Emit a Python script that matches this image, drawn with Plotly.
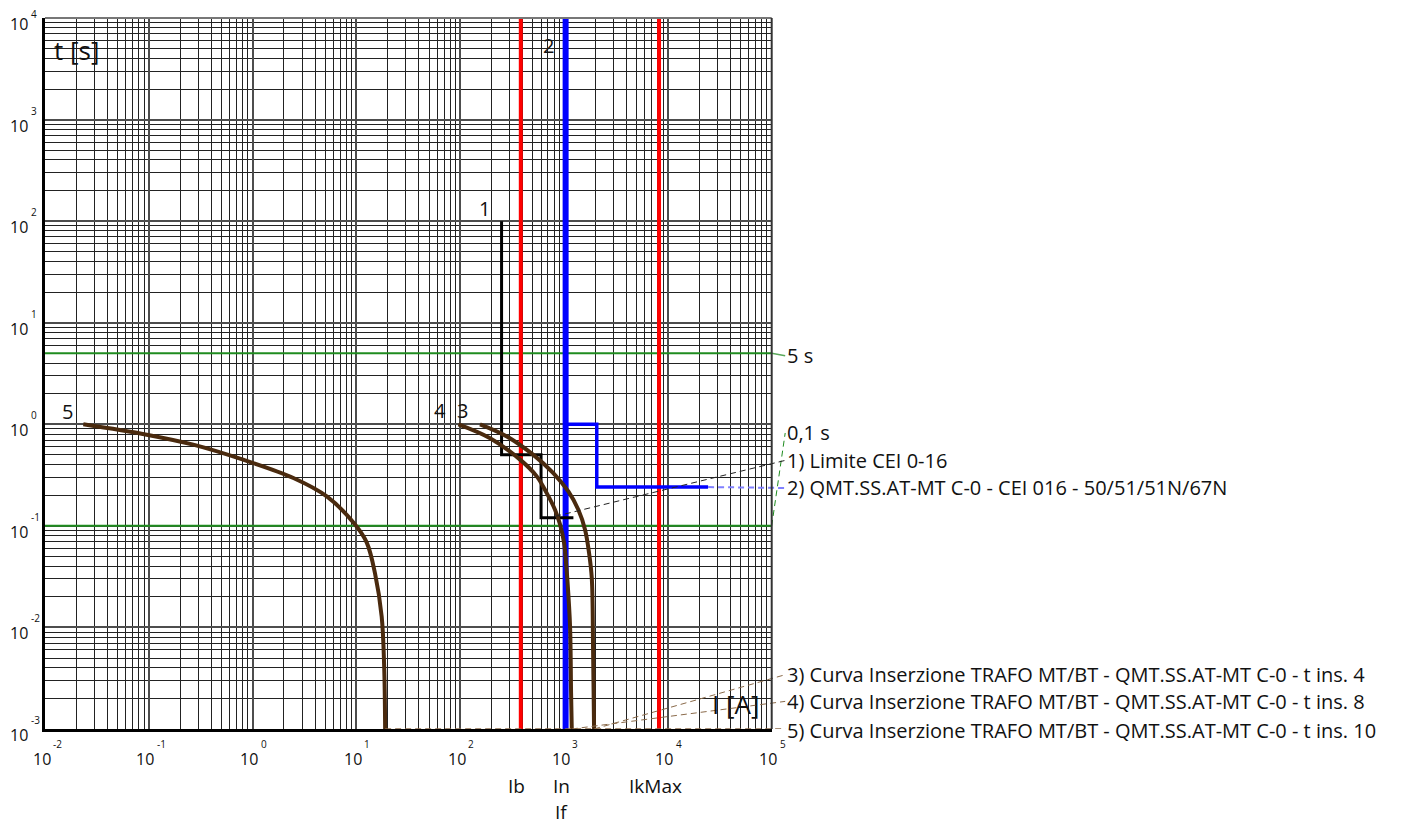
import math
import plotly.graph_objects as go

# ---------------- data ----------------
# 1) Limite CEI 0-16
c1_I = [250, 250, 600, 600, 1230]
c1_t = [100, 0.5, 0.5, 0.12, 0.12]

# 2) QMT.SS.AT-MT C-0 - CEI 016 - 50/51/51N/67N
c2v_I = [1035, 1035]
c2v_t = [1e4, 1e-3]
c2_I = [1035, 2065, 2065, 24400]
c2_t = [1.0, 1.0, 0.241, 0.241]

# 3) Curva Inserzione TRAFO t ins. 4
c3_I = [155, 281, 506, 788, 1099, 1373, 1593, 1741, 1849, 1903, 1945]
c3_t = [1.0, 0.76, 0.50, 0.331, 0.218, 0.144, 0.0917, 0.054, 0.0307, 0.006, 0.001]

# 4) Curva Inserzione TRAFO t ins. 8
c4_I = [96, 194, 377, 546, 681, 818, 915, 1000, 1045, 1076, 1142, 1168, 1186]
c4_t = [1.0, 0.73, 0.449, 0.307, 0.21, 0.144, 0.103, 0.068, 0.043, 0.0295, 0.0102, 0.00228, 0.001]

# 5) Curva Inserzione TRAFO t ins. 10
c5_I = [0.0234, 0.0955, 0.268, 0.81, 2.47, 5.18, 9.7, 12.6, 15.1, 17.5, 18.5, 18.9]
c5_t = [1.0, 0.79, 0.63, 0.448, 0.296, 0.195, 0.103, 0.068, 0.034, 0.0128, 0.0041, 0.001]

# reference currents
Ib = 383
In = 1035
If = 1035
IkMax = 8220

# reference times
t_lines = [5, 0.1]

X_DECADES = [-2, -1, 0, 1, 2, 3, 4, 5]
Y_DECADES = [-3, -2, -1, 0, 1, 2, 3, 4]

right_texts = ["5 s", "0,1 s", "1) Limite CEI 0-16",
               "2) QMT.SS.AT-MT C-0 - CEI 016 - 50/51/51N/67N",
               "3) Curva Inserzione TRAFO MT/BT - QMT.SS.AT-MT C-0 - t ins. 4",
               "4) Curva Inserzione TRAFO MT/BT - QMT.SS.AT-MT C-0 - t ins. 8",
               "5) Curva Inserzione TRAFO MT/BT - QMT.SS.AT-MT C-0 - t ins. 10"]
right_t = [4.74, 0.821, 0.441, 0.236, 0.003424, 0.00187, 0.001]
leader_start_I = [1e5, 1e5, 820, 24400, 1945, 1186, 18.9]
leader_start_t = [5, 0.1, 0.124, 0.241, 0.001, 0.001, 0.001]

# ---------------- styling / layout constants ----------------
OFF = 8                          # default page margin of the html body
W, H = 1419 - 2 * OFF, 826 - OFF
ML, MT = 45 - OFF, 18 - OFF
PLOT_H = 711
MB = H - MT - PLOT_H
PLOT_W = 755
MR = W - ML - PLOT_W
AX_W = 726.7                    # px used by the 7 decades
DOM = AX_W / PLOT_W
X2_MAX = -2 + 7 / DOM
LBL_X = 5.13                    # log10 position of right labels
FONT = "Open Sans"

BROWN = "#4a2a0e"
LEADER_BROWN = "#8a6a4a"
GREEN = "#1f8c1f"

fig = go.Figure()

def add(x, y, color, width, dash=None, xa="x", ya="y", shape="linear"):
    fig.add_trace(go.Scatter(x=x, y=y, mode="lines", xaxis=xa, yaxis=ya,
                             line=dict(color=color, width=width, dash=dash, shape=shape),
                             hoverinfo="skip", showlegend=False))

# green time lines
for tl in t_lines:
    add([1e-2, 1e5], [tl, tl], GREEN, 2)
# red current lines
for cur in [Ib, IkMax]:
    add([cur, cur], [1e-3, 1e4], "#ff0000", 4)
# blue curve 2
add(c2v_I, c2v_t, "#0000ff", 6)
add(c2_I, c2_t, "#0000ff", 3.5)
# black curve 1
add(c1_I, c1_t, "#000000", 3)
# brown curves
add(c3_I, c3_t, BROWN, 4, shape="spline")
add(c4_I, c4_t, BROWN, 4, shape="spline")
add(c5_I, c5_t, BROWN, 4, shape="spline")

# leader lines (on a wider hidden axis pair so they reach the labels)
leader_colors = ["#5aa85a", GREEN, "#222222", "#8080ff",
                 LEADER_BROWN, LEADER_BROWN, LEADER_BROWN]
leader_widths = [1.5, 1, 1, 2, 1, 1, 1.5]
leader_dash = ["solid", "6px,4px", "6px,4px", "6px,4px",
               "6px,4px", "6px,4px", "6px,4px"]
for i in range(len(right_texts)):
    add([leader_start_I[i], 10 ** LBL_X], [leader_start_t[i], right_t[i]],
        leader_colors[i], leader_widths[i], dash=leader_dash[i], xa="x2", ya="y2")

ann = []

for k in X_DECADES:
    ann.append(dict(xref="x", yref="paper", x=k, y=0, text="10", showarrow=False,
                    xanchor="center", yanchor="middle", xshift=-3.5, yshift=-30,
                    font=dict(size=16, family=FONT, color="#111")))
    ann.append(dict(xref="x", yref="paper", x=k, y=0, text=str(k), showarrow=False,
                    xanchor="left", yanchor="middle", xshift=6, yshift=-15,
                    font=dict(size=10, family=FONT, color="#111")))
for k in Y_DECADES:
    ann.append(dict(xref="paper", yref="y", x=0, y=k, text="10", showarrow=False,
                    xanchor="right", yanchor="middle", xshift=-15, yshift=-6,
                    font=dict(size=16, family=FONT, color="#111")))
    ann.append(dict(xref="paper", yref="y", x=0, y=k, text=str(k), showarrow=False,
                    xanchor="left", yanchor="middle", xshift=-15,
                    yshift=4 if k == Y_DECADES[-1] else 9, borderpad=0,
                    font=dict(size=10, family=FONT, color="#111")))

# current labels under the axis
for txt, val, ysh in [("Ib", Ib, -57), ("In", In, -57), ("If", If, -83), ("IkMax", IkMax, -57)]:
    ann.append(dict(xref="x", yref="paper", x=math.log10(val), y=0, text=txt,
                    showarrow=False, xanchor="center", yanchor="middle", borderpad=0,
                    xshift=-4, yshift=ysh, font=dict(size=19, family=FONT, color="#111")))

# curve numbers
for txt, I0, t0, xs, ys in [("1", c1_I[0], c1_t[0], -17.5, 12.5),
                            ("2", c2v_I[0], c2v_t[0], -17, -27),
                            ("3", c3_I[0], c3_t[0], -18, 14),
                            ("4", c4_I[0], c4_t[0], -18, 14),
                            ("5", c5_I[0], c5_t[0], -16, 13)]:
    ann.append(dict(xref="x", yref="y", x=math.log10(I0), y=math.log10(t0), text=txt,
                    showarrow=False, xanchor="center", yanchor="middle",
                    xshift=xs, yshift=ys, font=dict(size=20, family=FONT, color="#111")))

# axis titles (positions given in page pixels)
def px_to_paper(px, py):
    return (px - OFF - ML) / PLOT_W, 1 - (py - OFF - MT) / PLOT_H

tx, ty = px_to_paper(76.5, 50)
ann.append(dict(xref="paper", yref="paper", x=tx, y=ty, text="t [s]", showarrow=False,
                xanchor="center", yanchor="middle", font=dict(size=26, family=FONT, color="#111")))
ix, iy = px_to_paper(735, 704)
ann.append(dict(xref="paper", yref="paper", x=ix, y=iy, text="I [A]", showarrow=False,
                xanchor="center", yanchor="middle", font=dict(size=26, family=FONT, color="#111")))

# right-hand labels
for i, txt in enumerate(right_texts):
    yv = max(math.log10(right_t[i]), -3)
    ann.append(dict(xref="x2", yref="y2", x=LBL_X, y=yv, text=txt, showarrow=False,
                    xanchor="left", yanchor="middle", xshift=0,
                    yshift=-1 if i == len(right_texts) - 1 else 0,
                    font=dict(size=20, family=FONT, color="#111")))

shapes = [
    dict(type="line", xref="x domain", yref="y domain", x0=0, x1=1, y0=1, y1=1,
         line=dict(color="#777777", width=2)),
    dict(type="line", xref="x domain", yref="y domain", x0=1, x1=1, y0=0, y1=1,
         line=dict(color="#333333", width=2)),
]

grid_major = dict(showgrid=True, gridcolor="#4d4d4d", gridwidth=2)
minor = dict(dtick="D1", showgrid=True, gridcolor="#222222", gridwidth=1, ticks="")

fig.update_layout(
    width=W, height=H,
    margin=dict(l=ML, r=MR, t=MT, b=MB, pad=0, autoexpand=False),
    paper_bgcolor="white", plot_bgcolor="rgba(0,0,0,0)",
    font=dict(family=FONT, color="#111"),
    showlegend=False,
    xaxis=dict(type="log", range=[-2, 5], domain=[0, DOM], dtick=1, showticklabels=False,
               ticks="", showline=True, linecolor="black", linewidth=3, zeroline=False,
               minor=minor, anchor="y", automargin=False, **grid_major),
    yaxis=dict(type="log", range=[-3, 4], domain=[0, 1], dtick=1, showticklabels=False,
               ticks="", showline=True, linecolor="black", linewidth=3, zeroline=False,
               minor=minor, anchor="x", automargin=False, **grid_major),
    xaxis2=dict(type="log", range=[-2, X2_MAX], domain=[0, 1], visible=False,
                showgrid=False, anchor="y2"),
    yaxis2=dict(type="log", range=[-3, 4], domain=[0, 1], visible=False,
                showgrid=False, anchor="x2"),
    annotations=ann,
    shapes=shapes,
)

fig.write_html("out.html")
